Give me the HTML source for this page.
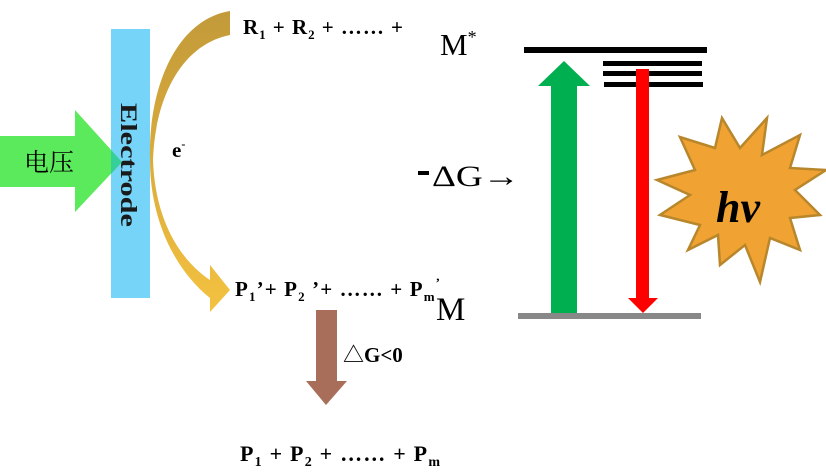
<!DOCTYPE html>
<html><head><meta charset="utf-8"><style>
html,body{margin:0;padding:0;background:#fff;}
svg{display:block;}
text{font-family:"Liberation Serif","Noto Serif CJK SC",serif;}
</style></head><body>
<svg width="826" height="473" viewBox="0 0 826 473" xmlns="http://www.w3.org/2000/svg">
<defs>
<linearGradient id="gold" x1="0" y1="0" x2="0" y2="1">
<stop offset="0" stop-color="#C29A3A"/><stop offset="0.45" stop-color="#D8AA3C"/><stop offset="1" stop-color="#F4C240"/>
</linearGradient>
</defs>
<rect x="111" y="29" width="39" height="269" fill="#75D4F7"/>
<polygon points="0,136 75,136 75,110 122,162 75,212 75,187 0,187" fill="#5BEA5B"/>
<polygon points="111,150 122,162 111,174" fill="#35D09A"/>
<text x="24" y="171" font-size="25" font-family="'Noto Sans CJK SC',sans-serif">电压</text>
<text transform="translate(121,103) rotate(90)" font-size="23" font-weight="bold" fill="#1a1a1a" textLength="124" lengthAdjust="spacingAndGlyphs">Electrode</text>
<path d="M230,11 C175,20 148,90 150,160 C150,220 175,270 210,298 L210,312 L230,290 L210,265 L210,280 C180,260 155,220 153,160 C155,100 180,45 230,35 Z" fill="url(#gold)"/>
<text x="172" y="157" font-size="21" font-weight="bold">e<tspan font-size="12" dy="-9">-</tspan></text>
<text x="243" y="34" font-size="21" font-weight="bold" textLength="160" lengthAdjust="spacing">R<tspan font-size="13" dy="5">1</tspan><tspan dy="-5"> + R</tspan><tspan font-size="13" dy="5">2</tspan><tspan dy="-5"> + …… +</tspan></text>
<text x="235" y="296" font-size="21" font-weight="bold" textLength="205" lengthAdjust="spacing">P<tspan font-size="13" dy="5">1</tspan><tspan dy="-5">’+ P</tspan><tspan font-size="13" dy="5">2</tspan><tspan dy="-5"> ’+ …… + P</tspan><tspan font-size="13" dy="5">m</tspan><tspan font-size="13" dy="-14">’</tspan></text>
<polygon points="316,310 337,310 337,381 347,381 326,405 306,381 316,381" fill="#A86E5A"/>
<text x="343" y="362" font-size="21" font-weight="bold">△G&lt;0</text>
<text x="240" y="461" font-size="22" font-weight="bold" textLength="200" lengthAdjust="spacing">P<tspan font-size="14" dy="5">1</tspan><tspan dy="-5"> + P</tspan><tspan font-size="14" dy="5">2</tspan><tspan dy="-5"> + …… + P</tspan><tspan font-size="14" dy="5">m</tspan></text>
<text x="440" y="55" font-size="31">M<tspan font-size="18" dy="-12">*</tspan></text>
<text x="436" y="320" font-size="33">M</text>
<rect x="524" y="47" width="183" height="6" fill="#000"/>
<rect x="603" y="61" width="99" height="5" fill="#000"/>
<rect x="603" y="71" width="99" height="5" fill="#000"/>
<rect x="604" y="82" width="99" height="5" fill="#000"/>
<rect x="518" y="313" width="183" height="6" fill="#888"/>
<polygon points="551,313 577,313 577,86 590,86 564,61 538,86 551,86" fill="#00AF50"/>
<polygon points="636,69 649,69 649,298 658,298 643,313 628,298 636,298" fill="#FF0000"/>
<rect x="418" y="171" width="11" height="4" fill="#000"/>
<text x="432" y="186" font-size="30" textLength="88" lengthAdjust="spacingAndGlyphs">ΔG→</text>
<polygon points="767,118 762,155 800,135 790,168 826,170 795,190 820,215 790,218 800,250 770,238 760,282 745,245 720,265 718,235 688,250 700,225 660,215 690,195 657,180 695,170 680,137 715,148 722,118 740,148" fill="#F0A232" stroke="#B8862B" stroke-width="2.5" stroke-linejoin="miter"/>
<text x="716" y="222" font-size="44" font-weight="bold" font-style="italic">hv</text>
</svg>
</body></html>
